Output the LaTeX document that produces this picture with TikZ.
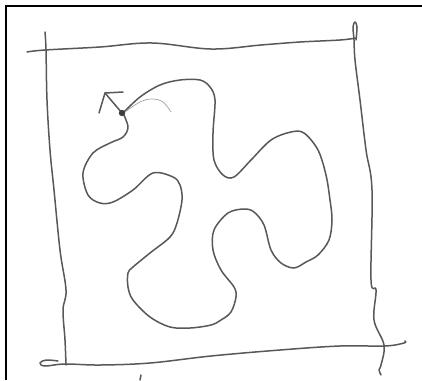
\documentclass[tikz,border=0pt]{standalone}
\definecolor{pencil}{RGB}{88,88,88}
\tikzset{
  pen/.style={draw=pencil, line width=1.5pt, line cap=round, line join=round},
  thinpen/.style={draw=pencil!55, line width=0.7pt, line cap=round},
  frameline/.style={draw=black, line width=2.4pt}
}
\begin{document}
\begin{tikzpicture}[x=1pt,y=-1pt]
\useasboundingbox (0,0) rectangle (422,380);
\fill[white] (0,0) rectangle (422,380);
% frame (top and left)
\draw[frameline] (5.8,380) -- (5.8,5.8) -- (422,5.8);
% square: top line
\draw[pen] plot[smooth,tension=0.6] coordinates {(27,52) (45,50) (100,47) (152,43) (211,49) (261,45) (300,42) (340,40) (356,38)};
% top-right loop + right line
\draw[pen] plot[smooth,tension=0.6] coordinates {(356,40) (357,27) (355,22) (353,27) (354,40) (355,60) (360,100) (366,150) (372,190) (371,280) (376,290) (374,320) (384,345) (381,365) (379,370) (381,375)};
% left line
\draw[pen] plot[smooth,tension=0.6] coordinates {(45,32) (46,50) (47,100) (50,150) (54,190) (60,250) (66,290) (63,310) (65,340) (66,365)};
% bottom line with curl
\draw[pen] plot[smooth,tension=0.6] coordinates {(58,361) (46,360) (40,363) (45,366) (65,364) (100,365) (150,363) (211,356) (280,350) (340,346) (385,346) (404,343) (405,341)};
% small mark
\draw[pen] (141,375) -- (140,380);
% blob
\draw[pen] plot[smooth,tension=0.55] coordinates {
(123,113) (140,97) (160,85) (180,80) (200,80) (210,87) (215,100) (213,133) (214,160) (223,175) (234,177)
(251,160) (271,140) (291,132) (304,133) (318,150) (326,175) (330,200) (332,220) (329,240) (318,255)
(306,262) (294,268) (281,263) (271,250) (264,225) (254,212) (244,209) (228,213) (214,230) (213,250)
(221,270) (234,287) (236,297) (231,312) (221,320) (211,325) (190,328) (170,327) (150,317) (133,300)
(128,287) (128,273) (133,267) (150,253) (170,237) (177,223) (182,200) (180,185) (173,177) (153,173)
(133,190) (113,202) (100,203) (88,195) (83,173) (93,153) (110,143) (123,137) (128,127) (123,113)};
% thin second stroke
\draw[thinpen] plot[smooth,tension=0.6] coordinates {(125,112) (140,102) (152,99) (163,102) (171,112)};
% arrow
\coordinate (dot) at (122,113);
\coordinate (tip) at (105,93);
\coordinate (barbA) at (123,92);
\coordinate (barbB) at (99,113);
\draw[pen] (dot) -- (tip);
\draw[pen] (barbA) -- (tip) -- (barbB);
\fill[pencil!70!black] (dot) circle (3.2);
\end{tikzpicture}
\end{document}
